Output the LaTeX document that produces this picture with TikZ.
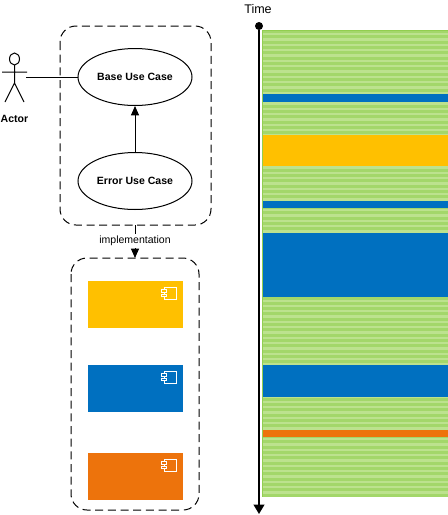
\documentclass[tikz,border=0pt]{standalone}
\usepackage{fontspec}
\setmainfont{Liberation Sans}
\usetikzlibrary{shapes.geometric,arrows.meta}
\definecolor{stripeA}{HTML}{BCE28E}
\definecolor{stripeB}{HTML}{A3D76A}
\definecolor{stripeEdge}{HTML}{92CE50}
\definecolor{myyellow}{HTML}{FFC000}
\definecolor{myblue}{HTML}{0070C0}
\definecolor{myorange}{HTML}{ED730C}
\tikzset{
  x=0.75pt,y=-0.75pt,
  usecase/.style={draw,ellipse,line width=0.75pt,minimum width=85.5pt,minimum height=42.75pt,inner sep=0pt,font=\bfseries\fontsize{7.9pt}{9pt}\selectfont},
  dashbox/.style={draw,dashed,dash pattern=on 6pt off 3.5pt,rounded corners=12pt,line width=0.75pt},
  link/.style={line width=0.75pt},
  headlink/.style={line width=0.75pt,-{Triangle[length=7pt,width=6pt]}},
  band/.style={fill=#1,draw=none},
  comp/.style={fill=#1,draw=none,minimum width=71.25pt,minimum height=35.25pt,inner sep=0pt},
  compicon/.style={draw=white,line width=0.7pt},
  label/.style={font=\fontsize{7.9pt}{9pt}\selectfont,inner sep=0pt}
}
\begin{document}
\begin{tikzpicture}
\useasboundingbox (0,0) rectangle (448,515);
\fill[white] (0,0) rectangle (448,515);
% containers
\draw[dashbox] (60,26) rectangle (211,225);
\draw[dashbox] (71,258) rectangle (199,510);
% actor
\draw[link] (14.5,59) circle[x radius=5,y radius=6];
\coordinate (actorhand) at (26,77);
\draw[link] (14.5,65) -- (14.5,83) (2,72) -- (27,72) (14.5,83) -- (5,102) (14.5,83) -- (24,102);
\node[font=\bfseries\fontsize{7.9pt}{9pt}\selectfont,inner sep=0pt] (actor) at (14.5,119) {Actor};
% use cases
\node[usecase] (base) at (135,77) {Base Use Case};
\node[usecase] (err) at (135,181) {Error Use Case};
\draw[link] (actorhand) -- (base.west);
\draw[headlink] (err.north) -- (base.south);
% implementation
\coordinate (implfrom) at (135,225);
\coordinate (implto) at (135,258);
\draw[headlink] (implfrom) -- (implto);
\node[label,fill=white,inner ysep=1.5pt] (impl) at (135,241) {implementation};
% components
\node[comp=myyellow] (c1) at (135.5,304.5) {};
\node[comp=myblue] (c2) at (135.5,388.5) {};
\node[comp=myorange] (c3) at (135.5,476.5) {};
\foreach \n/\cc in {c1/myyellow,c2/myblue,c3/myorange}{
  \begin{scope}[shift={(\n.center)}]
    \draw[compicon] (29,-17.5) rectangle (41,-5.5);
    \draw[compicon,fill=\cc] (26,-15.5) rectangle (31,-12.5);
    \draw[compicon,fill=\cc] (26,-10.5) rectangle (31,-8.5);
  \end{scope}
}
% time bar
\fill[stripeA] (262,30) rectangle (448,497);
\foreach \i in {0,...,87}{
  \fill[stripeB] (262,{30+5.33*\i}) rectangle (448,{33+5.33*\i});
}
\fill[stripeEdge] (262,30) rectangle (448,31);
\fill[stripeEdge] (262,30) rectangle (263,497);
\fill[band=myblue] (263,94) rectangle (448,102);
\fill[band=myyellow] (263,135) rectangle (448,166);
\fill[band=myblue] (263,201) rectangle (448,208);
\fill[band=myblue] (263,233) rectangle (448,297);
\fill[band=myblue] (263,365) rectangle (448,397);
\fill[band=myorange] (263,430) rectangle (448,437);
% time axis
\node[inner sep=0pt,font=\fontsize{9.4pt}{11pt}\selectfont] (time) at (258,9) {Time};
\node[circle,fill=black,inner sep=0pt,minimum size=6pt] (t0) at (259,26) {};
\coordinate (t1) at (259,514);
\draw[line width=1.3pt,-{Triangle[length=7pt,width=8pt]}] (t0) -- (t1);
\end{tikzpicture}
\end{document}
